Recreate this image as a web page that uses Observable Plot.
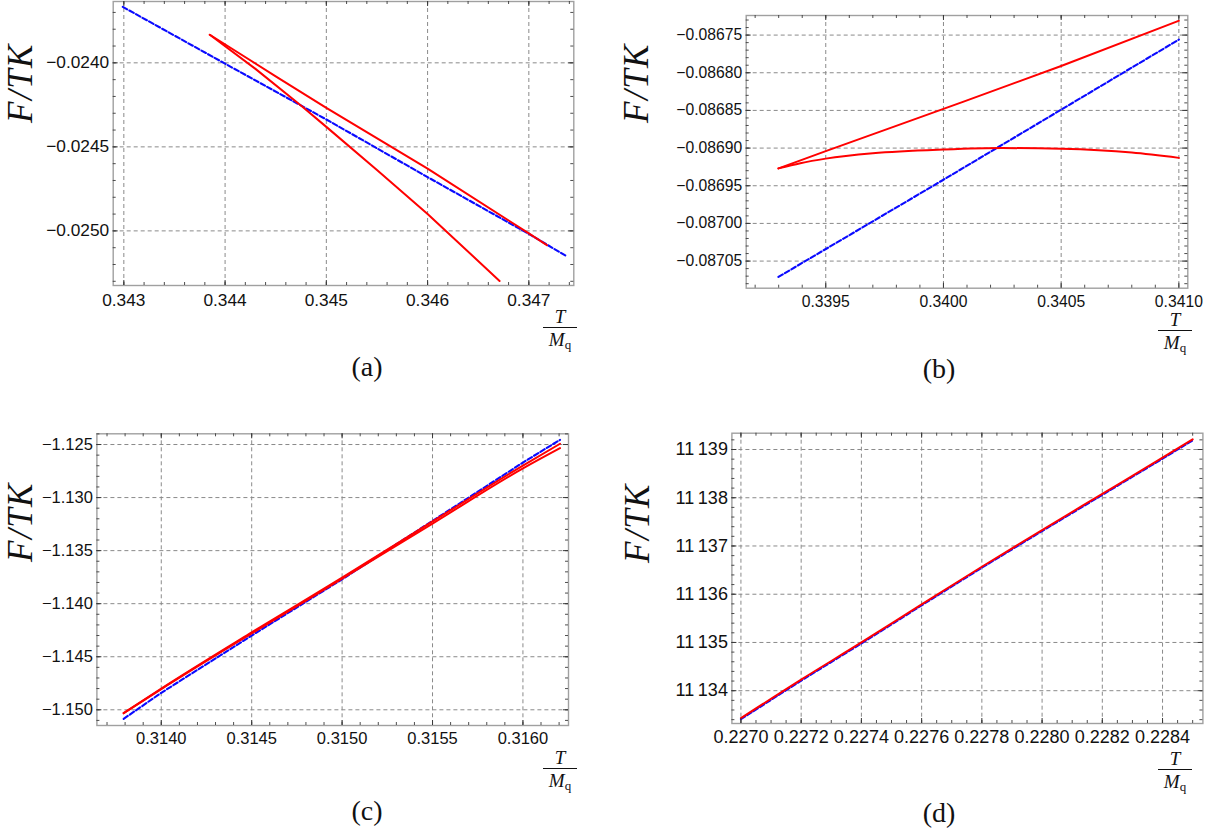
<!DOCTYPE html>
<html><head><meta charset="utf-8">
<script src="https://cdn.jsdelivr.net/npm/d3@7"></script>
<script src="https://cdn.jsdelivr.net/npm/@observablehq/plot@0.6"></script>
<style>
body{margin:0;background:#fff;}
#root{position:relative;width:1215px;height:836px;overflow:hidden;background:#fff;}
.panel{position:absolute;}
.panel svg{overflow:visible;}
.serif{font-family:"Liberation Serif","DejaVu Serif",serif;}
.ylab{position:absolute;font-style:italic;font-size:35px;letter-spacing:1.5px;white-space:nowrap;line-height:1;transform:translate(-50%,-50%) rotate(-90deg);color:#111;}
.cap{position:absolute;font-size:28px;white-space:nowrap;line-height:1;transform:translate(-50%,-50%);color:#111;}
.fnum,.fden{position:absolute;width:40px;text-align:center;font-style:italic;font-size:19px;line-height:19px;height:19px;color:#111;white-space:nowrap;}
.fden span{font-style:normal;font-size:13px;position:relative;top:3px;}
.fbar{position:absolute;width:34px;height:1.2px;background:#111;}
</style></head><body><div id="root"></div>
<script>
// ---------- Panel (a) ----------
const aBlueT = [0.34299, 0.3440, 0.3450, 0.3460, 0.3470, 0.34737];
const aBlueF = [-0.023667, -0.024005, -0.024337, -0.024680, -0.025018, -0.025150];
const aRedUpT = [0.343849, 0.3445, 0.3450, 0.3460, 0.3470, 0.347178];
const aRedUpF = [-0.023833, -0.024080, -0.024268, -0.024630, -0.025015, -0.025085];
const aRedLoT = [0.343849, 0.3443, 0.344761, 0.3450, 0.3455, 0.3460, 0.346711];
const aRedLoF = [-0.023833, -0.024036, -0.024260, -0.024381, -0.024638, -0.024899, -0.025298];
const aXTicks = [0.343, 0.344, 0.345, 0.346, 0.347];
const aXLabels = ["0.343", "0.344", "0.345", "0.346", "0.347"];
const aYTicks = [-0.0240, -0.0245, -0.0250];
const aYLabels = ["\u22120.0240", "\u22120.0245", "\u22120.0250"];

// ---------- Panel (b) ----------
const bBlueT = [0.339299, 0.3400, 0.3405, 0.3410];
const bBlueF = [-0.087071, -0.086942, -0.086849, -0.086756];
const bRedUpT = [0.339299, 0.3395, 0.3400, 0.3405, 0.3410];
const bRedUpF = [-0.086927, -0.086904, -0.086848, -0.086791, -0.086731];
const bRedLoT = [0.339299, 0.339392, 0.3395, 0.3397, 0.3400, 0.34025, 0.3405, 0.3408, 0.3410];
const bRedLoF = [-0.086927, -0.086920, -0.086914, -0.086907, -0.086902, -0.086900, -0.086901, -0.086906, -0.086913];
const bXTicks = [0.3395, 0.3400, 0.3405, 0.3410];
const bXLabels = ["0.3395", "0.3400", "0.3405", "0.3410"];
const bYTicks = [-0.08675, -0.08680, -0.08685, -0.08690, -0.08695, -0.08700, -0.08705];
const bYLabels = ["\u22120.08675", "\u22120.08680", "\u22120.08685", "\u22120.08690", "\u22120.08695", "\u22120.08700", "\u22120.08705"];

// ---------- Panel (c) ----------
const cBlueT = [0.313792, 0.3140, 0.3145, 0.3150, 0.3155, 0.3160, 0.316205];
const cBlueF = [-1.15085, -1.14840, -1.14300, -1.13770, -1.13220, -1.12670, -1.12456];
const cRedUpT = [0.313792, 0.3140, 0.3145, 0.3150, 0.3155, 0.3160, 0.316205];
const cRedUpF = [-1.15032, -1.14800, -1.14270, -1.13755, -1.13225, -1.12698, -1.12493];
const cRedLoT = [0.313792, 0.3140, 0.3145, 0.3150, 0.3155, 0.3160, 0.316205];
const cRedLoF = [-1.15032, -1.14805, -1.14280, -1.13765, -1.13245, -1.12725, -1.12534];
const cXTicks = [0.3140, 0.3145, 0.3150, 0.3155, 0.3160];
const cXLabels = ["0.3140", "0.3145", "0.3150", "0.3155", "0.3160"];
const cYTicks = [-1.125, -1.130, -1.135, -1.140, -1.145, -1.150];
const cYLabels = ["\u22121.125", "\u22121.130", "\u22121.135", "\u22121.140", "\u22121.145", "\u22121.150"];

// ---------- Panel (d) ----------
const dT = [0.2270, 0.2272, 0.2274, 0.2276, 0.2278, 0.2280, 0.2282, 0.2284, 0.22850];
const dBlueF = [11133.41, 11134.21, 11134.98, 11135.77, 11136.55, 11137.31, 11138.06, 11138.81, 11139.19];
const dRedF = [11133.43, 11134.23, 11135.00, 11135.79, 11136.57, 11137.33, 11138.08, 11138.83, 11139.21];
const dXTicks = [0.2270, 0.2272, 0.2274, 0.2276, 0.2278, 0.2280, 0.2282, 0.2284];
const dXLabels = ["0.2270", "0.2272", "0.2274", "0.2276", "0.2278", "0.2280", "0.2282", "0.2284"];
const dYTicks = [11134, 11135, 11136, 11137, 11138, 11139];
const dYLabels = ["11\u2009134", "11\u2009135", "11\u2009136", "11\u2009137", "11\u2009138", "11\u2009139"];

const panels = [
  {left: 0, top: 0, width: 600, height: 320, ml: 112.7, mr: 26.7, mt: 1, mb: 35,
   xDomain: [0.342895, 0.347444], yDomain: [-0.025325, -0.023635], xMinor: 0.0002, yMinor: 0.0001,
   xTicks: aXTicks, xLabels: aXLabels, yTicks: aYTicks, yLabels: aYLabels, fs: 17.3, padX: 8,
   blueT: aBlueT, blueF: aBlueF, reds: [[aRedUpT, aRedUpF], [aRedLoT, aRedLoF]], curve: "linear"},
  {left: 600, top: 0, width: 615, height: 320, ml: 145.7, mr: 27.7, mt: 15, mb: 32.3,
   xDomain: [0.339162, 0.341038], yDomain: [-0.087086, -0.086724], xMinor: 0.0001, yMinor: 0.00001,
   xTicks: bXTicks, xLabels: bXLabels, yTicks: bYTicks, yLabels: bYLabels, fs: 15.7, padX: 7.5,
   blueT: bBlueT, blueF: bBlueF, reds: [[bRedUpT, bRedUpF], [bRedLoT, bRedLoF]], curve: "monotone-x"},
  {left: 0, top: 410, width: 600, height: 350, ml: 96.4, mr: 32, mt: 23.3, mb: 35,
   xDomain: [0.313644, 0.316252], yDomain: [-1.15148, -1.12399], xMinor: 0.0001, yMinor: 0.001,
   xTicks: cXTicks, xLabels: cXLabels, yTicks: cYTicks, yLabels: cYLabels, fs: 16.5, padX: 7,
   blueT: cBlueT, blueF: cBlueF, reds: [[cRedUpT, cRedUpF], [cRedLoT, cRedLoF]], curve: "monotone-x"},
  {left: 600, top: 410, width: 615, height: 350, ml: 131.4, mr: 12.6, mt: 22.7, mb: 37,
   xDomain: [0.22697, 0.228534], yDomain: [11133.32, 11139.338], xMinor: 0.00005, yMinor: 0.2,
   xTicks: dXTicks, xLabels: dXLabels, yTicks: dYTicks, yLabels: dYLabels, fs: 18, padX: 7,
   blueT: dT, blueF: dBlueF, reds: [[dT, dRedF]], curve: "monotone-x"}
];

function minorTicks([d0, d1], step) {
  const lo = Math.min(d0, d1), hi = Math.max(d0, d1);
  return d3.range(Math.ceil(lo / step - 1e-9), Math.floor(hi / step + 1e-9) + 1).map(k => k * step)
    .filter(v => v >= lo && v <= hi);
}

function makePanel(c) {
  const fw = c.width - c.ml - c.mr, fh = c.height - c.mt - c.mb;
  const xm = minorTicks(c.xDomain, c.xMinor), ym = minorTicks(c.yDomain, c.yMinor);
  const xl = new Map(c.xTicks.map((d, i) => [d, c.xLabels[i]]));
  const yl = new Map(c.yTicks.map((d, i) => [d, c.yLabels[i]]));
  const tc = "#3a3a3a", MJ = 5, MN = 3;
  const grid = {stroke: "#8a8a8a", strokeWidth: 1, strokeDasharray: "4,3"};
  return Plot.plot({
    width: c.width, height: c.height,
    marginLeft: c.ml, marginRight: c.mr, marginTop: c.mt, marginBottom: c.mb,
    x: {domain: c.xDomain}, y: {domain: c.yDomain},
    style: {fontFamily: "Liberation Sans, Arimo, Arial, DejaVu Sans, sans-serif", fontSize: c.fs + "px", color: "#111", background: "transparent", overflow: "visible"},
    marks: [
      Plot.ruleX(c.xTicks, {x: d => d, ...grid}),
      Plot.ruleY(c.yTicks, {y: d => d, ...grid}),
      Plot.line(c.blueT, {x: c.blueT, y: c.blueF, stroke: "#0a0aff", strokeWidth: 2.1, strokeDasharray: "5,2.5"}),
      ...c.reds.map(([t, f]) => Plot.line(t, {x: t, y: f, stroke: "#ff0000", strokeWidth: 2, curve: c.curve})),
      Plot.frame({stroke: "#a0a0a0", strokeWidth: 1.4}),
      Plot.ruleX(xm, {x: d => d, insetTop: fh - MN, stroke: tc, strokeWidth: 0.9}),
      Plot.ruleX(xm, {x: d => d, insetBottom: fh - MN, stroke: tc, strokeWidth: 0.9}),
      Plot.ruleX(c.xTicks, {x: d => d, insetTop: fh - MJ, stroke: tc, strokeWidth: 1}),
      Plot.ruleX(c.xTicks, {x: d => d, insetBottom: fh - MJ, stroke: tc, strokeWidth: 1}),
      Plot.ruleY(ym, {y: d => d, insetRight: fw - MN, stroke: tc, strokeWidth: 0.9}),
      Plot.ruleY(ym, {y: d => d, insetLeft: fw - MN, stroke: tc, strokeWidth: 0.9}),
      Plot.ruleY(c.yTicks, {y: d => d, insetRight: fw - MJ, stroke: tc, strokeWidth: 1}),
      Plot.ruleY(c.yTicks, {y: d => d, insetLeft: fw - MJ, stroke: tc, strokeWidth: 1}),
      Plot.axisX({ticks: c.xTicks, tickFormat: d => xl.get(d), tickSize: 0, tickPadding: c.padX, label: null, fontSize: c.fs}),
      Plot.axisY({ticks: c.yTicks, tickFormat: d => yl.get(d), anchor: "left", tickSize: 0, tickPadding: 4, label: null, fontSize: c.fs})
    ]
  });
}

const root = document.getElementById("root");
panels.forEach(c => {
  const div = document.createElement("div");
  div.className = "panel";
  div.style.left = c.left + "px";
  div.style.top = c.top + "px";
  div.appendChild(makePanel(c));
  root.appendChild(div);
});

function addDiv(cls, x, y, html) {
  const d = document.createElement("div");
  d.className = cls + " serif";
  d.style.left = x + "px"; d.style.top = y + "px";
  d.innerHTML = html;
  root.appendChild(d);
}
// y-axis labels
[[20, 83], [636, 83], [20, 522], [637, 523]].forEach(([x, y]) => addDiv("ylab", x, y, "F/TK"));
// x-axis fraction labels T / M_q (x = centre, y = fraction bar)
[[560, 327], [1175, 330], [560, 768], [1175, 769]].forEach(([x, y]) => {
  addDiv("fnum", x - 20, y - 20, "T");
  addDiv("fbar", x - 17, y, "");
  addDiv("fden", x - 20, y + 3, "M<span>q</span>");
});
// captions
const captions = ["(a)", "(b)", "(c)", "(d)"];
const capPos = [[367, 367], [939, 369], [367, 811], [939, 813]];
captions.forEach((t, i) => addDiv("cap", capPos[i][0], capPos[i][1], t));
</script>
</body></html>
